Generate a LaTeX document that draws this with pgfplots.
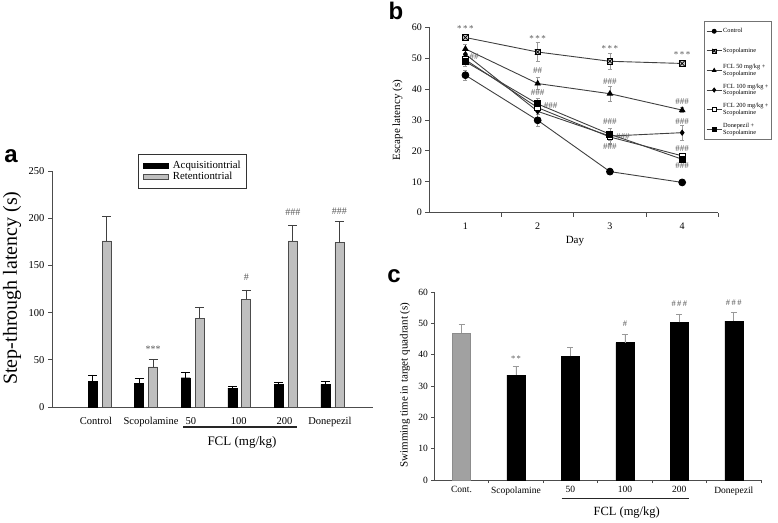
\documentclass[border=0pt]{standalone}
\usepackage{fontspec}
\setmainfont{Liberation Serif}
\newfontfamily\sansfam{Liberation Sans}
\usepackage{pgfplots}
\pgfplotsset{compat=1.18}
\pgfdeclareplotmark{sqx}{%
  \pgfpathrectangle{\pgfqpoint{-\pgfplotmarksize}{-\pgfplotmarksize}}{\pgfqpoint{2\pgfplotmarksize}{2\pgfplotmarksize}}%
  \pgfusepathqfillstroke
  \pgfpathmoveto{\pgfqpoint{-\pgfplotmarksize}{-\pgfplotmarksize}}\pgfpathlineto{\pgfqpoint{\pgfplotmarksize}{\pgfplotmarksize}}%
  \pgfpathmoveto{\pgfqpoint{-\pgfplotmarksize}{\pgfplotmarksize}}\pgfpathlineto{\pgfqpoint{\pgfplotmarksize}{-\pgfplotmarksize}}%
  \pgfusepathqstroke}
\definecolor{axcol}{gray}{0.3}
\definecolor{barGray}{gray}{0.75}
\definecolor{barGrayC}{gray}{0.63}
\definecolor{lineCol}{gray}{0.25}
\definecolor{errCol}{gray}{0.6}
\definecolor{annCol}{gray}{0.35}
\pgfplotsset{
  legA/.style={legend image code/.code={\draw[##1] (0pt,-2.8pt) rectangle (25pt,2.8pt);}},
  legB/.style={legend image code/.code={\draw[mark repeat=2,mark phase=2,##1] plot coordinates {(0pt,0pt)(7.5pt,0pt)(15pt,0pt)};}},
  common/.style={scale only axis, anchor=south west, axis lines=left, clip=false,
    axis line style={-, draw=axcol, line width=0.8pt},
    tick align=outside, major tick length=4pt,
    every tick/.style={draw=axcol, line width=0.8pt},
    /pgf/number format/assume math mode=true},
}
\begin{document}
\begin{tikzpicture}
\useasboundingbox (0pt,0pt) rectangle (778pt,522pt);
% ---------------- Panel a
\begin{axis}[common,
  at={(52pt,115pt)}, width=321pt, height=236pt,
  xmin=-1.02, xmax=5.87, ymin=0, ymax=250,
  ytick={0,50,100,150,200,250},
  xtick={-0.075,1.105,1.963,2.99,3.97,4.946},
  xticklabels={Control,Scopolamine,50,100,200,Donepezil},
  x tick style={draw=none},
  xticklabel style={yshift=-3pt},
  tick label style={font=\fontsize{10.5}{12}\selectfont},
  ylabel={Step-through latency (s)},
  ylabel style={font=\fontsize{20}{24}\selectfont, at={(axis description cs:-0.1246,0.504)}, anchor=center},
  legend style={at={(0.268,1.072)}, anchor=north west, draw=black!80, line width=0.6pt,
    font=\fontsize{10.8}{11}\selectfont, nodes={inner sep=1pt}, row sep=0pt, column sep=3pt,
    inner xsep=5pt, inner ysep=6pt},
  legend cell align=left,
]
\addplot[ybar, bar width=9pt, bar shift=0pt, fill=black, draw=black, legA,
  error bars/.cd, y dir=plus, y explicit,
  error bar style={black, line width=0.8pt},
  error mark options={rotate=90, mark size=4.5pt, black, line width=0.8pt}]
  coordinates {(-0.15,27) +- (0,7) (0.85,25) +- (0,5) (1.85,31) +- (0,6)
               (2.85,20) +- (0,2) (3.85,24) +- (0,2.5) (4.85,24) +- (0,3.5)};
\addlegendentry{Acquisitiontrial\hspace{6pt}}
\addplot[ybar, bar width=9pt, bar shift=0pt, fill=barGray, draw=black!70, line width=0.6pt, legA,
  error bars/.cd, y dir=plus, y explicit,
  error bar style={black!75, line width=0.8pt},
  error mark options={rotate=90, mark size=4.5pt, black!75, line width=0.8pt}]
  coordinates {(0.15,176) +- (0,26) (1.15,42.5) +- (0,7.5) (2.15,94) +- (0,12)
               (3.15,114) +- (0,10) (4.15,176) +- (0,16) (5.15,174) +- (0,23)};
\addlegendentry{Retentiontrial}
\node[font=\fontsize{10}{10}\selectfont, text=annCol] at (axis cs:1.15,61) {***};
\node[font=\fontsize{10}{10}\selectfont, text=annCol] at (axis cs:3.15,137) {\#};
\node[font=\fontsize{10}{10}\selectfont, text=annCol] at (axis cs:4.15,206.5) {\#\#\#};
\node[font=\fontsize{10}{10}\selectfont, text=annCol] at (axis cs:5.15,207) {\#\#\#};
\end{axis}
\draw[black!85, line width=1.4pt] (183pt,95pt) -- (297pt,95pt);
\node[font=\fontsize{13}{13}\selectfont] at (242pt,80pt) {FCL (mg/kg)};
% ---------------- Panel b
\begin{axis}[common,
  at={(429.3pt,309.3pt)}, width=289pt, height=185.4pt,
  xmin=0.5, xmax=4.5, ymin=0, ymax=60,
  ytick={0,10,20,30,40,50,60},
  xtick={1.5,2.5,3.5,4.5}, xticklabels={1,2,3,4},
  xticklabel style={xshift=-36.1pt, yshift=-3pt},
  tick label style={font=\fontsize{10}{12}\selectfont},
  xlabel={Day}, xlabel style={font=\fontsize{11}{12}\selectfont, at={(axis description cs:0.504,-0.152)}, anchor=center},
  ylabel={Escape latency (s)},
  ylabel style={font=\fontsize{11}{12}\selectfont, at={(axis description cs:-0.11,0.5)}, anchor=center},
  legend style={at={(0.9505,1.0356)}, anchor=north west, draw=black!55, line width=0.5pt,
    fill=white, font=\fontsize{6.3}{6.8}\selectfont, nodes={align=left, minimum height=19.6pt, inner sep=1pt},
    row sep=0pt, inner xsep=2pt, inner ysep=0.5pt},
  legend cell align=left,
  legend image post style={mark size=2pt},
  every axis plot/.append style={lineCol, line width=0.9pt, legB,
    error bars/y dir=both, error bars/y explicit,
    error bars/error bar style={errCol, line width=0.5pt},
    error bars/error mark options={rotate=90, mark size=2pt, errCol, line width=0.5pt}},
]
\addplot[mark=*, mark size=3.4pt, mark options={fill=black, draw=black}]
  coordinates {(1,44.5) +- (0,1.5) (2,29.9) +- (0,2) (3,13.3) +- (0,1) (4,9.8) +- (0,0.6)};
\addlegendentry{Control}
\addplot[mark=sqx, mark size=2.8pt, mark options={fill=black!20, draw=black, line width=0.7pt}]
  coordinates {(1,56.7) +- (0,0.8) (2,52.0) +- (0,3) (3,49.0) +- (0,2.5) (4,48.3) +- (0,0.7)};
\addlegendentry{Scopolamine}
\addplot[mark=triangle*, mark size=3pt, mark options={fill=black, draw=black}]
  coordinates {(1,53.0) +- (0,1.5) (2,41.8) +- (0,2) (3,38.5) +- (0,2.3) (4,33.2) +- (0,0.8)};
\addlegendentry{FCL 50 mg/kg +\\Scopolamine}
\addplot[mark=diamond*, mark size=2.5pt, mark options={fill=black, draw=black}]
  coordinates {(1,51.3) +- (0,1.5) (2,32.8) +- (0,2) (3,24.8) +- (0,2.5) (4,25.9) +- (0,2.5)};
\addlegendentry{FCL 100 mg/kg +\\Scopolamine}
\addplot[mark=square*, mark size=2.8pt, mark options={fill=white, draw=black}]
  coordinates {(1,49.5) +- (0,1.5) (2,34.0) +- (0,2) (3,24.5) +- (0,2) (4,18.4) +- (0,1)};
\addlegendentry{FCL 200 mg/kg +\\Scopolamine}
\addplot[mark=square*, mark size=3pt, mark options={fill=black, draw=black}]
  coordinates {(1,48.9) +- (0,1.5) (2,35.2) +- (0,2) (3,25.4) +- (0,2) (4,17.3) +- (0,1)};
\addlegendentry{Donepezil +\\Scopolamine}
\begin{scope}[every node/.style={font=\fontsize{9}{9}\selectfont, text=annCol}]
\node at (axis cs:1,59.6) {*\,*\,*};
\node at (axis cs:2,56.4) {*\,*\,*};
\node at (axis cs:3,53.2) {*\,*\,*};
\node at (axis cs:4,51.3) {*\,*\,*};
\node at (axis cs:1.12,50.5) {\#\#};
\node at (axis cs:2,45.9) {\#\#};
\node at (axis cs:2,39.0) {\#\#\#};
\node at (axis cs:2.18,34.6) {\#\#\#};
\node at (axis cs:3,42.4) {\#\#\#};
\node at (axis cs:3,29.5) {\#\#\#};
\node at (axis cs:3.18,24.6) {\#\#\#};
\node at (axis cs:3,21.4) {\#\#\#};
\node at (axis cs:4,35.9) {\#\#\#};
\node at (axis cs:4,29.5) {\#\#\#};
\node at (axis cs:4,20.9) {\#\#\#};
\node at (axis cs:4,15.1) {\#\#\#};
\end{scope}
\end{axis}
% ---------------- Panel c
\begin{axis}[common,
  at={(434.3pt,42pt)}, width=326.7pt, height=187.7pt,
  xmin=0.5, xmax=6.5, ymin=0, ymax=60,
  ytick={0,10,20,30,40,50,60},
  xtick={1.5,2.5,3.5,4.5,5.5,6.5}, xticklabels={Cont.,Scopolamine,50,100,200,Donepezil},
  xticklabel style={xshift=-27.2pt},
  major tick length=3pt,
  tick label style={font=\fontsize{9.5}{11}\selectfont},
  ylabel={Swimming time in target quadrant (s)},
  ylabel style={font=\fontsize{11}{12}\selectfont, at={(axis description cs:-0.0897,0.506)}, anchor=center},
]
\addplot[ybar, bar width=18pt, bar shift=0pt, fill=barGrayC, draw=black!45, line width=0.6pt,
  error bars/.cd, y dir=plus, y explicit,
  error bar style={errCol, line width=0.7pt},
  error mark options={rotate=90, mark size=3pt, errCol, line width=0.7pt}]
  coordinates {(1,46.9) +- (0,2.8)};
\addplot[ybar, bar width=18pt, bar shift=0pt, fill=black, draw=black,
  error bars/.cd, y dir=plus, y explicit,
  error bar style={errCol, line width=0.7pt},
  error mark options={rotate=90, mark size=3pt, errCol, line width=0.7pt}]
  coordinates {(2,33.5) +- (0,2.9) (3,39.6) +- (0,2.8) (4,43.9) +- (0,2.8)
               (5,50.4) +- (0,2.7) (6,50.8) +- (0,2.9)};
\begin{scope}[every node/.style={font=\fontsize{8.5}{9}\selectfont, text=annCol}]
\node at (axis cs:2,38.7) {*\,*};
\node at (axis cs:4,49.8) {\#};
\node at (axis cs:5,56.5) {\#\,\#\,\#};
\node at (axis cs:6,56.8) {\#\,\#\,\#};
\end{scope}
\end{axis}
\draw[black!85, line width=1.6pt] (561.7pt,23.7pt) -- (689.3pt,23.7pt);
\node[font=\fontsize{12.5}{13}\selectfont] at (626.7pt,9pt) {FCL (mg/kg)};
% panel letters
\node[font=\sansfam\bfseries\fontsize{24}{24}\selectfont] at (11pt,366pt) {a};
\node[font=\sansfam\bfseries\fontsize{24}{24}\selectfont] at (396pt,511pt) {b};
\node[font=\sansfam\bfseries\fontsize{24}{24}\selectfont] at (394pt,246pt) {c};
\end{tikzpicture}
\end{document}
